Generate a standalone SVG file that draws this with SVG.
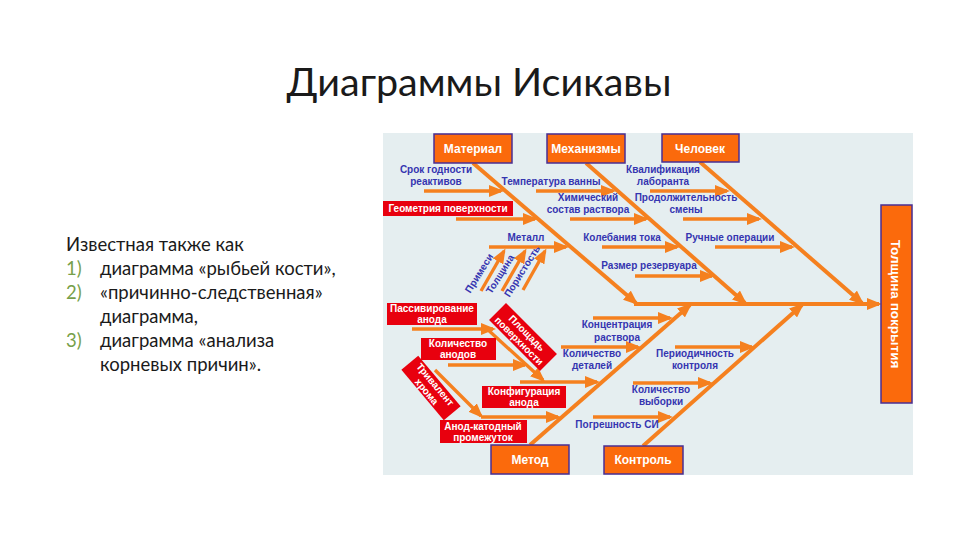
<svg xmlns="http://www.w3.org/2000/svg" width="960" height="540" viewBox="0 0 960 540">
<defs>
<marker id="ah" markerUnits="userSpaceOnUse" markerWidth="15" markerHeight="12" refX="12" refY="6" orient="auto" viewBox="0 0 15 12">
<path d="M0,0 L15,6 L0,12 z" fill="#f5801f"/>
</marker>
<style>
.title{font-family:Lato,"Open Sans",sans-serif;font-size:39.5px;fill:#1a1a1a}
.body{font-family:Lato,"Open Sans",sans-serif;font-size:18.5px;fill:#1a1a1a}
.num{font-family:Lato,"Open Sans",sans-serif;font-size:18.5px;fill:#77a04a}
.box{fill:#fb6a0c;stroke:#4a2f92;stroke-width:1.5}
.bt{font-family:"Liberation Sans",Arial,sans-serif;font-size:12px;font-weight:bold;fill:#fff;text-anchor:middle}
.red{fill:#e8000e}
.rt{font-family:"Liberation Sans",Arial,sans-serif;font-size:10px;font-weight:bold;fill:#fff;text-anchor:middle}
.lb{font-family:"Liberation Sans",Arial,sans-serif;font-size:10px;font-weight:bold;fill:#3535b0;text-anchor:middle}
.bone{stroke:#f5801f;stroke-width:4;fill:none}
.sub{stroke:#f5801f;stroke-width:3.3;fill:none;marker-end:url(#ah)}
</style>
</defs>
<rect width="960" height="540" fill="#ffffff"/>
<text class="title" x="479" y="96" text-anchor="middle">Диаграммы Исикавы</text>
<g id="intro">
<text class="body" x="66" y="251">Известная также как</text>
<text class="num" x="66" y="275">1)</text><text class="body" x="100" y="275">диаграмма «рыбьей кости»,</text>
<text class="num" x="66" y="299">2)</text><text class="body" x="100" y="299">«причинно-следственная»</text>
<text class="body" x="100" y="323">диаграмма,</text>
<text class="num" x="66" y="347">3)</text><text class="body" x="100" y="347">диаграмма «анализа</text>
<text class="body" x="100" y="371">корневых причин».</text>
</g>
<rect x="383" y="133" width="530" height="342" fill="#e5eef0"/>
<g id="connectors">
<line class="bone" x1="473" y1="163" x2="636" y2="303" marker-end="url(#ah)"/>
<line class="bone" x1="586" y1="163" x2="745" y2="303" marker-end="url(#ah)"/>
<line class="bone" x1="700" y1="162" x2="862" y2="303" marker-end="url(#ah)"/>
<line class="bone" x1="530" y1="445" x2="690" y2="305" marker-end="url(#ah)"/>
<line class="bone" x1="643" y1="446" x2="802" y2="305" marker-end="url(#ah)"/>
<line class="bone" x1="634" y1="304" x2="879" y2="304" marker-end="url(#ah)"/>
<line class="sub" x1="424" y1="191" x2="501" y2="191"/>
<line class="sub" x1="456" y1="219" x2="535" y2="219"/>
<line class="sub" x1="489" y1="247" x2="566" y2="247"/>
<line class="sub" x1="536" y1="191" x2="613" y2="191"/>
<line class="sub" x1="570" y1="219" x2="646" y2="219"/>
<line class="sub" x1="602" y1="247" x2="677" y2="247"/>
<line class="sub" x1="635" y1="276" x2="712" y2="276"/>
<line class="sub" x1="650" y1="191" x2="727" y2="191"/>
<line class="sub" x1="683" y1="219" x2="759" y2="219"/>
<line class="sub" x1="715" y1="247" x2="792" y2="247"/>
<line class="sub" x1="593" y1="318" x2="670" y2="318"/>
<line class="sub" x1="561" y1="347" x2="638" y2="347"/>
<line class="sub" x1="520" y1="382" x2="597" y2="382"/>
<line class="sub" x1="481" y1="417" x2="558" y2="417"/>
<line class="sub" x1="675" y1="347" x2="752" y2="347"/>
<line class="sub" x1="633" y1="383" x2="710" y2="383"/>
<line class="sub" x1="593" y1="417" x2="670" y2="417"/>
<line class="sub" x1="412" y1="329" x2="493" y2="329"/>
<line class="sub" x1="448" y1="365" x2="525" y2="365"/>
<line class="sub" x1="486" y1="328" x2="543" y2="380"/>
<line class="sub" x1="435" y1="370" x2="481" y2="416"/>
<line class="sub" x1="481" y1="291" x2="504" y2="251"/>
<line class="sub" x1="502" y1="291" x2="525" y2="251"/>
<line class="sub" x1="523" y1="290" x2="545" y2="251"/>
</g>
<g id="n-material"><rect class="box" x="434" y="134" width="78" height="29"/><text class="bt" x="473" y="153">Материал</text></g>
<g id="n-mech"><rect class="box" x="547" y="134" width="78" height="29"/><text class="bt" x="586" y="153">Механизмы</text></g>
<g id="n-human"><rect class="box" x="662" y="134" width="77" height="28"/><text class="bt" x="700" y="153">Человек</text></g>
<g id="n-method"><rect class="box" x="491" y="445" width="78" height="29"/><text class="bt" x="530" y="464">Метод</text></g>
<g id="n-control"><rect class="box" x="604" y="446" width="79" height="28"/><text class="bt" x="643" y="464">Контроль</text></g>
<g id="n-result"><rect class="box" x="881" y="205" width="31" height="198"/><text class="bt" style="font-size:13.5px" transform="translate(896,304) rotate(90)" x="0" y="5">Толщина покрытия</text></g>
<g id="n-srok"><text class="lb" x="436" y="173">Срок годности</text><text class="lb" x="436" y="185">реактивов</text></g>
<g id="n-geom"><rect class="red" x="383" y="201" width="130" height="15"/><text class="rt" x="448" y="212">Геометрия поверхности</text></g>
<g id="n-metal"><text class="lb" x="526" y="241">Металл</text></g>
<g id="n-primesi"><text class="lb" transform="translate(482,275) rotate(-58)">Примеси</text></g>
<g id="n-tolsh"><text class="lb" transform="translate(503,276) rotate(-58)">Толщина</text></g>
<g id="n-porist"><text class="lb" transform="translate(525,273) rotate(-58)">Пористость</text></g>
<g id="n-temp"><text class="lb" x="551" y="185">Температура ванны</text></g>
<g id="n-chem"><text class="lb" x="588" y="201">Химический</text><text class="lb" x="588" y="213">состав раствора</text></g>
<g id="n-koleb"><text class="lb" x="622" y="241">Колебания тока</text></g>
<g id="n-razmer"><text class="lb" x="649" y="269">Размер резервуара</text></g>
<g id="n-kval"><text class="lb" x="663" y="173">Квалификация</text><text class="lb" x="663" y="185">лаборанта</text></g>
<g id="n-prod"><text class="lb" x="686" y="201">Продолжительность</text><text class="lb" x="686" y="213">смены</text></g>
<g id="n-ruch"><text class="lb" x="730" y="241">Ручные операции</text></g>
<g id="n-konc"><text class="lb" x="617" y="328">Концентрация</text><text class="lb" x="617" y="341">раствора</text></g>
<g id="n-kdet"><text class="lb" x="592" y="357">Количество</text><text class="lb" x="592" y="369">деталей</text></g>
<g id="n-period"><text class="lb" x="695" y="357">Периодичность</text><text class="lb" x="695" y="369">контроля</text></g>
<g id="n-kvyb"><text class="lb" x="661" y="393">Количество</text><text class="lb" x="661" y="405">выборки</text></g>
<g id="n-pogr"><text class="lb" x="617" y="428">Погрешность СИ</text></g>
<g id="n-pass"><rect class="red" x="387" y="303" width="90" height="22"/><text class="rt" x="432" y="312">Пассивирование</text><text class="rt" x="432" y="323">анода</text></g>
<g id="n-kan"><rect class="red" x="421" y="338" width="75" height="22"/><text class="rt" x="458" y="347">Количество</text><text class="rt" x="458" y="358">анодов</text></g>
<g id="n-konf"><rect class="red" x="482" y="386" width="84" height="22"/><text class="rt" x="524" y="395">Конфигурация</text><text class="rt" x="524" y="406">анода</text></g>
<g id="n-anod"><rect class="red" x="440" y="420" width="87" height="23"/><text class="rt" x="483" y="430">Анод-катодный</text><text class="rt" x="483" y="441">промежуток</text></g>
<g id="n-plosh" transform="translate(523,337) rotate(45)"><rect class="red" x="-36" y="-12" width="72" height="24"/><text class="rt" x="0" y="-2">Площадь</text><text class="rt" x="0" y="9">поверхности</text></g>
<g id="n-triv" transform="translate(431,388) rotate(50)"><rect class="red" x="-33" y="-11" width="66" height="22"/><text class="rt" x="0" y="-2">Тривалент</text><text class="rt" x="0" y="9">хрома</text></g>
</svg>
